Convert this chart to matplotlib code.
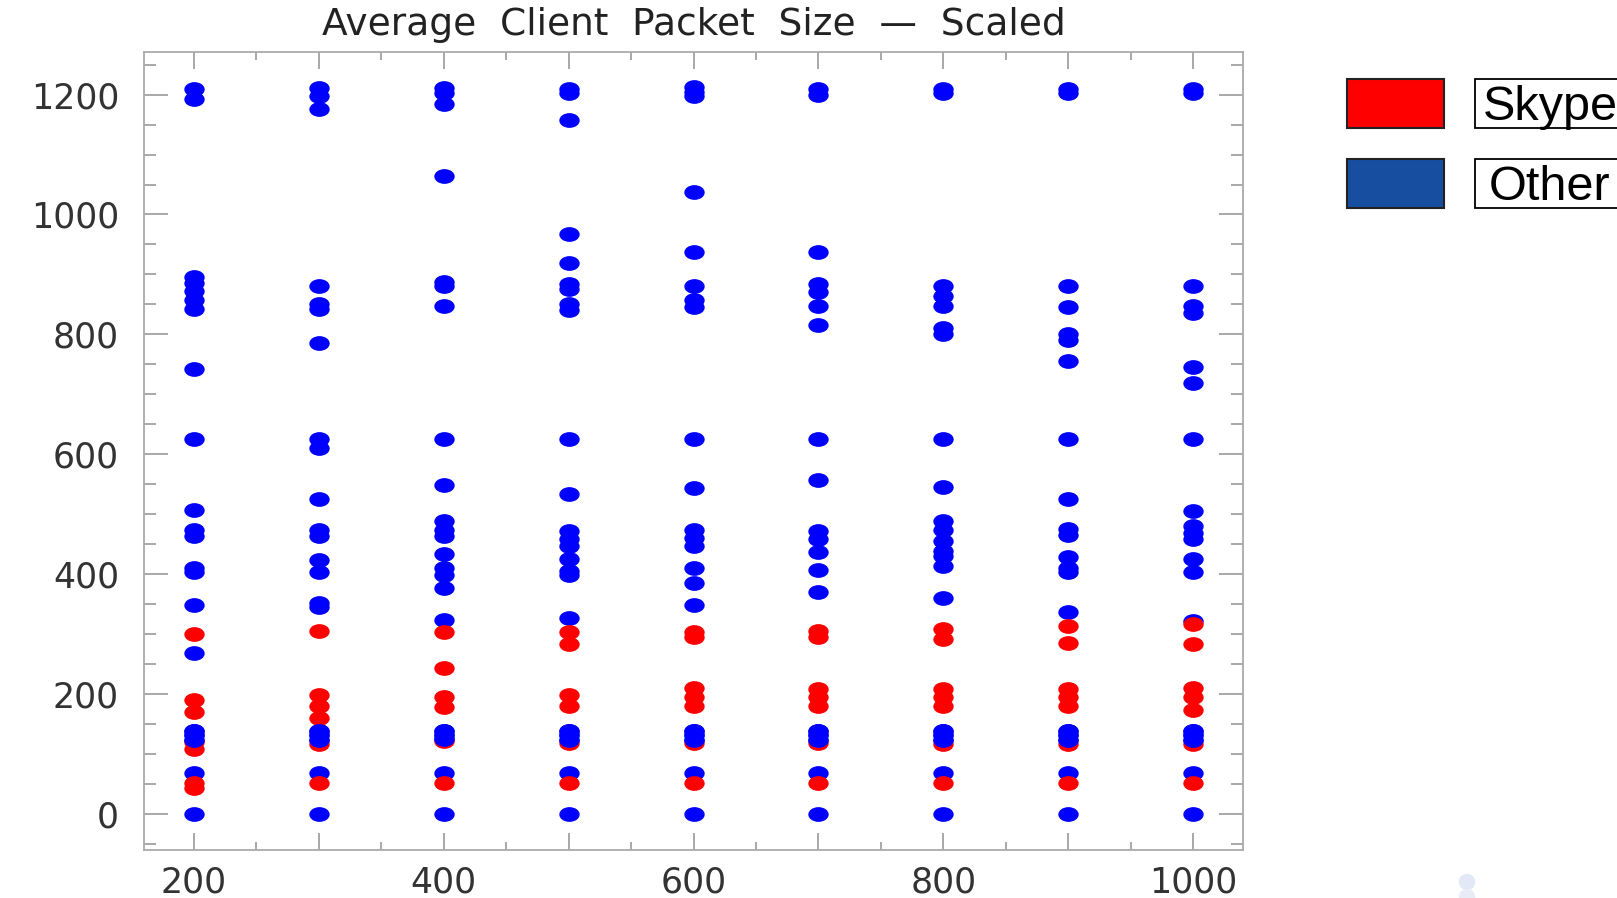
import numpy as np
import matplotlib
matplotlib.use("Agg")
import matplotlib.pyplot as plt
from matplotlib.path import Path
from matplotlib.transforms import Affine2D
from matplotlib.patches import Rectangle, Ellipse
from matplotlib.ticker import MultipleLocator, FuncFormatter

W, H = 1617, 898

# x position of each column of points
x_positions = [200, 300, 400, 500, 600, 700, 800, 900, 1000]

# "Other" traffic, average client packet size per column
other_sizes = [
    [1210, 1192, 895, 885, 872, 857, 842, 743, 625, 507, 473, 463, 411, 403, 348, 269, 138, 131, 124, 68, 0],
    [1211, 1197, 1176, 880, 850, 843, 785, 625, 611, 526, 473, 463, 424, 403, 352, 346, 138, 131, 124, 68, 0],
    [1211, 1203, 1185, 1065, 888, 880, 847, 625, 549, 488, 474, 463, 433, 410, 399, 377, 324, 138, 131, 125, 68, 0],
    [1210, 1203, 1158, 968, 919, 884, 876, 850, 841, 625, 534, 472, 458, 447, 426, 406, 399, 327, 138, 131, 124, 68, 0],
    [1212, 1205, 1198, 1038, 938, 880, 857, 845, 625, 543, 473, 461, 447, 410, 386, 348, 138, 131, 124, 68, 0],
    [1210, 1200, 938, 884, 870, 847, 815, 625, 557, 472, 458, 437, 407, 371, 138, 131, 124, 68, 0],
    [1210, 1203, 880, 864, 847, 811, 800, 625, 545, 489, 473, 456, 438, 430, 413, 361, 138, 131, 124, 68, 0],
    [1210, 1203, 880, 845, 801, 790, 756, 625, 526, 476, 466, 428, 410, 403, 337, 138, 131, 124, 68, 0],
    [1210, 1203, 880, 847, 836, 745, 719, 625, 506, 481, 469, 458, 425, 403, 322, 138, 131, 124, 68, 0],
]

# Skype traffic
skype_sizes = [
    [300, 191, 171, 120, 108, 52, 43],
    [305, 198, 180, 160, 116, 52],
    [304, 243, 195, 178, 121, 51],
    [303, 284, 199, 181, 118, 51],
    [303, 296, 210, 196, 181, 118, 51],
    [306, 296, 208, 196, 181, 118, 51],
    [309, 292, 208, 196, 181, 117, 51],
    [313, 285, 208, 196, 181, 116, 51],
    [317, 283, 210, 196, 173, 116, 51],
]

legend_labels = ["Skype", "Other"]
legend_colors = ["#ff0000", "#184ea0"]


def flatten(groups):
    xs = np.repeat(x_positions, [len(g) for g in groups])
    ys = np.concatenate([np.asarray(g, dtype=float) for g in groups])
    return xs, ys


ox, oy = flatten(other_sizes)
sx, sy = flatten(skype_sizes)

# slightly squashed dots, wider than tall
ell = Path.unit_circle().transformed(Affine2D().scale(1.38, 1.0))

fig = plt.figure(figsize=(W / 100, H / 100), dpi=100)
ax = fig.add_axes([144 / W, 1 - 850 / H, (1243 - 144) / W, (850 - 52) / H])

ax.scatter(ox, oy, s=215, marker=ell, c="#0000ff", linewidths=0, zorder=3)
ax.scatter(sx, sy, s=215, marker=ell, c="#ff0000", linewidths=0, zorder=4)
# the blue cluster around 130 sits on top of the red ones
mid = (oy > 115) & (oy < 145)
ax.scatter(ox[mid], oy[mid], s=215, marker=ell, c="#0000ff", linewidths=0, zorder=5)

ax.set_xlim(160, 1040)
ax.set_ylim(-60, 1271)

ax.xaxis.set_major_locator(MultipleLocator(100))
ax.xaxis.set_minor_locator(MultipleLocator(50))
ax.xaxis.set_major_formatter(FuncFormatter(lambda v, p: f"{v:.0f}" if round(v) % 200 == 0 else ""))
ax.yaxis.set_major_locator(MultipleLocator(200))
ax.yaxis.set_minor_locator(MultipleLocator(50))

ax.tick_params(axis="both", which="both", direction="in", color="#999999",
               width=1.2, labelcolor="#333333", labelsize=25)
ax.tick_params(axis="x", which="both", top=True)
ax.tick_params(axis="x", which="major", length=12.2, pad=11)
ax.tick_params(axis="x", which="minor", length=5.8)
ax.tick_params(axis="y", which="both", right=True)
ax.tick_params(axis="y", which="major", length=17.3, pad=18)
ax.tick_params(axis="y", which="minor", length=8.6)

for sp in ax.spines.values():
    sp.set_color("#aaaaaa")
    sp.set_linewidth(1.3)

ax.set_title("Average  Client  Packet  Size  \u2014  Scaled", fontsize=27,
             pad=12, color="#222222")

# legend drawn as separate colour boxes and framed labels
for i, (label, color) in enumerate(zip(legend_labels, legend_colors)):
    y0 = 79 + i * 80
    fig.add_artist(Rectangle((1347 / W, 1 - (y0 + 49) / H), 97 / W, 49 / H,
                             facecolor=color, edgecolor="#222222", lw=1.5,
                             transform=fig.transFigure))
    fig.add_artist(Rectangle((1475 / W, 1 - (y0 + 49) / H), 220 / W, 49 / H,
                             facecolor="white", edgecolor="black", lw=1.3,
                             transform=fig.transFigure))
    tx = 1483 if i == 0 else 1489
    fig.text(tx / W, 1 - (y0 + 41) / H, label, fontsize=35,
             family="Liberation Sans", va="baseline", color="black")

# faint smudge near the bottom right of the slide
fig.add_artist(Ellipse((1467 / W, 1 - 882 / H), 15 / W, 15 / H,
                       color="#e2e8f5", transform=fig.transFigure))
fig.add_artist(Ellipse((1467 / W, 1 - 897 / H), 15 / W, 15 / H,
                       color="#e8ecf7", transform=fig.transFigure))

fig.savefig("out.png", dpi=100)
